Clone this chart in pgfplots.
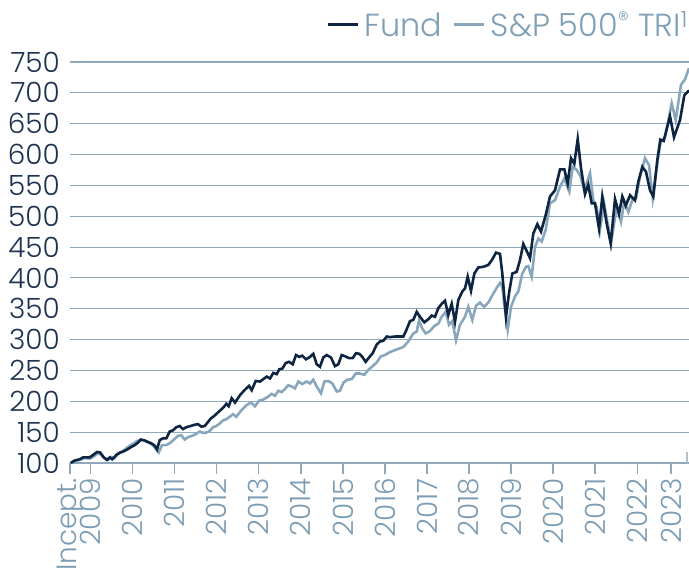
\documentclass[border=0pt]{standalone}
\usepackage{fontspec}
\setmainfont{Poppins}[UprightFont={* Light}]
\usepackage{pgfplots}
\pgfplotsset{compat=1.18}
\usetikzlibrary{calc}
\definecolor{fundc}{HTML}{0E2542}
\definecolor{spc}{HTML}{88A6BC}
\definecolor{gridc}{HTML}{8FA8BA}
\definecolor{ylabc}{HTML}{1F3350}
\definecolor{xlabc}{HTML}{7B9CB3}
\definecolor{legc}{HTML}{7F9FB6}
% x = horizontal position along the time axis (Incept. = 70, 2023 = 672)
\pgfplotstableread{
x y
70.7 100
74.7 104
79.7 106
83 109
86.3 109
89.7 109
93 113
97.3 118
100.3 117
103.7 109
107 105
109.7 109
112.3 106
116.3 113
120.3 117
123.7 119
127.3 122
131.3 126
134.7 129
138 133
140.7 138
144 137
148 134
151.3 132
154.7 128
157 122
159.7 137
163 140
166.3 140
169.7 151
173 153
176.3 158
179.7 160
183 155
186.3 158
190.7 160
194.7 162
198 163
201.3 159
204.7 160
207.3 165
210.7 172
214 176
217.3 181
220.7 186
224 191
226.3 196
228.7 192
231.7 205
235 198
240 210
245 219
249 225
251.7 218
255.7 233
260 232
263.3 236
266.7 240
270 237
273.3 246
276.7 244
279.3 252
282.3 253
285.7 262
289 264
292.7 260
296 275
299.3 272
302.3 274
306 268
310 272
313.3 277
316.7 260
320 256
323.3 271
326.7 275
331 271
335 257
338.3 260
341.7 275
345 273
349 270
352.7 270
356 278
359.3 277
362.3 272
365.7 264
369 271
372.7 278
376.7 292
380 297
383.3 298
386.7 305
390 304
395 305
398.3 305
403.3 305
405.7 313
410 330
413.3 332
416.7 345
420 337
424.3 328
428.3 333
431.7 339
435 337
438.3 351
441.7 358
445 363
448.3 340
451.7 358
455 329
458.3 364
462.3 378
465 383
467.7 402
471 379
474.3 407
478.3 417
483.3 418
488.3 421
492.3 430
496 441
500 439
502.3 407
506 337
509 375
512.3 407
516.7 410
520 429
523.3 455
526 446
530 432
533.3 472
537.3 487
541 475
545.7 502
550 532
555 542
560 576
564.3 576
567.7 553
571 594
574.3 585
577.7 625
581 578
585 536
588.3 551
591.7 521
595 521
599 480
602.3 532
606.7 488
610.7 456
615 528
619 504
622.3 532
625.7 517
630 534
635 526
638.3 556
642.3 580
646 572
650 542
653.3 532
657.3 591
660.3 624
663.7 622
670 662
674 628
680 656
684.3 696
689 704
}\fund
\pgfplotstableread{
x y
70.7 100
74.7 103
79.7 105
84.7 108
89.7 107
94 111
98 116
101.3 113
104.7 108
108 105
111.3 110
114.7 108
118 116
122 118
126.3 124
130.7 129
134 132
137.3 136
140.7 137
144.7 136
148.7 133
153 129
156.3 122
158.7 117
162 129
166.3 129
169.7 132
174 138
178 144
181.3 145
184.7 138
188 142
192 144
196 147
199.7 151
203 149
206.3 149
209.7 152
213 158
216.3 160
219.7 164
223 169
226.3 171
229.7 175
233 179
236.3 175
241.7 186
246.7 194
251 198
255 192
259 201
263.3 203
267.7 207
271.7 212
275 209
278.3 217
281.7 215
285 220
288.3 226
291.7 224
295 221
298.3 232
302.3 228
306.7 232
310 229
313.3 235
316.7 224
321 213
324.3 232
328.3 233
332.3 229
336.7 216
340 217
343.3 230
347.3 235
351.7 236
355.7 245
360 245
364.3 243
368.3 251
372.7 257
376.7 263
381 273
385 275
389 279
393.3 282
398.3 285
403.3 288
408.3 297
413.3 310
416.7 313
419 331
422.3 318
425.7 310
430 314
434.3 322
438.3 326
441.7 337
445.7 345
449 324
452.3 330
456 299
460 324
465 337
468.3 353
472.3 332
476 355
480 360
484 353
488.3 360
491.7 370
496.7 384
500 392
502.3 386
505 348
507.7 316
511 353
515 370
518.3 378
522.3 407
526 418
528.3 419
531.7 402
535 450
538.3 464
541.7 459
545.7 478
550 521
555 526
560 548
564.3 561
569.3 540
572.7 580
576.7 575
580.5 565
584.3 542
590 570
593.3 526
596.7 515
600 478
604 521
608.3 483
611 456
616.7 515
621 491
624.3 524
628.3 507
632.3 526
636 529
640 564
645 594
649 583
652.7 529
657.3 586
660.7 621
665 629
671.7 683
675.7 656
681 713
685 722
689 740
}\spx
\begin{document}
\begin{tikzpicture}
\begin{axis}[
  name=ax,
  scale only axis,
  width=619bp, height=401bp,
  xmin=70, xmax=689, ymin=100, ymax=750,
  enlargelimits=false,
  axis line style={draw=none},
  tick align=outside,
  xtick pos=bottom, ytick pos=left,
  major tick length=11bp,
  ytick={100,150,...,750},
  ymajorgrids,
  grid style={gridc, line width=1.1bp},
  y tick style={draw=none},
  x tick style={draw=gridc, line width=1.5bp},
  xtick={70,90.5,132.6,174.6,216.7,258.7,300.8,342.9,384.9,427.0,469.0,511.1,553.2,595.2,637.3,671},
  xticklabels={Incept.,2009,2010,2011,2012,2013,2014,2015,2016,2017,2018,2019,2020,2021,2022,2023},
  extra x ticks={687},
  extra x tick labels={},
  extra x tick style={tick align=inside, major tick length=11bp, x tick style={draw=gridc!70, line width=1.5bp}},
  x tick label style={rotate=90, anchor=east, font=\fontsize{28}{28}\selectfont, text=xlabc, inner xsep=4bp, inner ysep=0bp},
  y tick label style={font=\fontsize{28}{28}\selectfont, text=ylabc, inner sep=2bp, xshift=3bp},
  /pgf/number format/assume math mode=true,
  yticklabel style={/pgf/number format/1000 sep=},
  legend columns=2,
  legend style={at={(1,1)}, anchor=east, yshift=37bp, xshift=1bp, draw=none, fill=none, inner sep=0pt,
    font=\fontsize{32}{32}\selectfont, text=legc,
    /tikz/every odd column/.append style={column sep=3bp},
    /tikz/every even column/.append style={column sep=9bp}},
  legend image code/.code={\draw[#1, line width=3bp] (0bp,0bp) -- (30bp,0bp);},
]
\addlegendimage{fundc}
\addlegendentry{Fund}
\addlegendimage{spc}
\addlegendentry{S\&P 500\textsuperscript{\textregistered} TRI\textsuperscript{1}}
\addplot[spc, line width=2.6bp, forget plot] table[x=x,y=y] {\spx};
\addplot[fundc, line width=2.6bp, forget plot] table[x=x,y=y] {\fund};
\end{axis}
\pgfresetboundingbox
\path ($(ax.south west)+(-70bp,-107bp)$) rectangle ($(ax.south west)+(619bp,463bp)$);
\end{tikzpicture}
\end{document}
